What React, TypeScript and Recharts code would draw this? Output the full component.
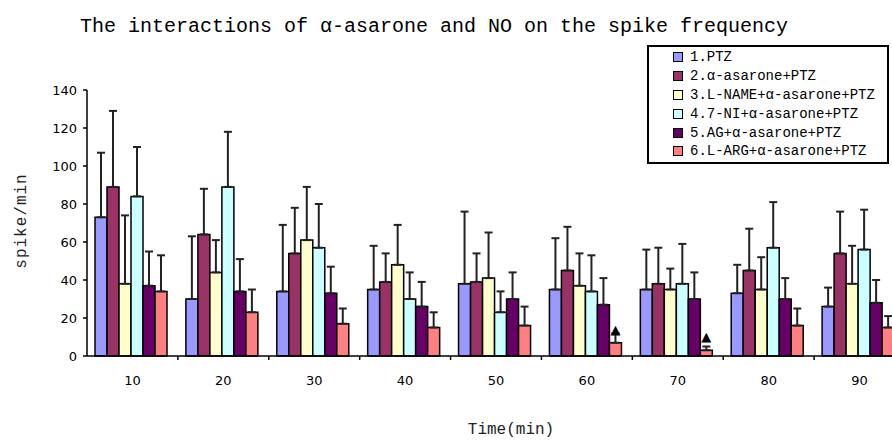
import { Bar, BarChart, ErrorBar, LabelList, Legend, XAxis, YAxis } from 'recharts'

// spike/min, mean and upper error
const categories = ['10', '20', '30', '40', '50', '60', '70', '80', '90']

const ptz = [73, 30, 34, 35, 38, 35, 35, 33, 26]
const ptzErr = [34, 33, 35, 23, 38, 27, 21, 15, 10]

const asarone = [89, 64, 54, 39, 39, 45, 38, 45, 54]
const asaroneErr = [40, 24, 24, 15, 15, 23, 19, 22, 22]

const lname = [38, 44, 61, 48, 41, 37, 35, 35, 38]
const lnameErr = [36, 17, 28, 21, 24, 17, 11, 17, 20]

const sevenNi = [84, 89, 57, 30, 23, 34, 38, 57, 56]
const sevenNiErr = [26, 29, 23, 14, 11, 19, 21, 24, 21]

const ag = [37, 34, 33, 26, 30, 27, 30, 30, 28]
const agErr = [18, 17, 14, 13, 14, 14, 14, 11, 12]

const larg = [34, 23, 17, 15, 16, 7, 3, 16, 15]
const largErr = [19, 12, 8, 8, 10, 5, 2, 9, 6]

// significance marks over the L-ARG group
const marks = ['', '', '', '', '', '▲', '▲', '', '']

const yTicks = [0, 20, 40, 60, 80, 100, 120, 140]

const seriesNames = [
  '1.PTZ',
  '2.α-asarone+PTZ',
  '3.L-NAME+α-asarone+PTZ',
  '4.7-NI+α-asarone+PTZ',
  '5.AG+α-asarone+PTZ',
  '6.L-ARG+α-asarone+PTZ',
]
const seriesColors = ['#9999FF', '#993366', '#FFFFCC', '#CCFFFF', '#660066', '#FF8080']
const seriesValues = [ptz, asarone, lname, sevenNi, ag, larg]
const seriesErrors = [ptzErr, asaroneErr, lnameErr, sevenNiErr, agErr, largErr]

const data = categories.map((time, i) => {
  const row: Record<string, string | number> = { time, mark: marks[i] }
  seriesValues.forEach((vals, s) => {
    row[`s${s}`] = vals[i]
    row[`e${s}`] = seriesErrors[s][i]
  })
  return row
})

const CHART_W = 910
const CHART_H = 440
const Y_AXIS_W = 87
const RIGHT = 5
const HALF_BAND = (CHART_W - Y_AXIS_W - RIGHT) / categories.length / 2

const MONO = '"Liberation Mono", "DejaVu Sans Mono", monospace'
const SANS = '"DejaVu Sans", Verdana, sans-serif'

function TimeTick({ x, y, payload }: any) {
  return (
    <g>
      <line x1={x + HALF_BAND} x2={x + HALF_BAND} y1={y} y2={y + 4} stroke="#000" strokeWidth={1.5} />
      <text x={x} y={y + 29} textAnchor="middle" fontSize={13} fontFamily={SANS} fill="#000">
        {payload.value}
      </text>
    </g>
  )
}

function XTitle({ viewBox }: any) {
  return (
    <text x={viewBox.x + viewBox.width / 2 + 15} y={434} textAnchor="middle" fontSize={16} fontFamily={MONO} fill="#222">
      Time(min)
    </text>
  )
}

function YTitle({ viewBox }: any) {
  const cx = viewBox.x + 26
  const cy = viewBox.y + viewBox.height / 2 - 2
  return (
    <text
      x={cx}
      y={cy}
      transform={`rotate(-90 ${cx} ${cy})`}
      textAnchor="middle"
      fontSize={16}
      letterSpacing={1}
      fontFamily={MONO}
      fill="#222"
    >
      spike/min
    </text>
  )
}

function MarkLabel({ x, y, width, value }: any) {
  if (!value) return null
  return (
    <text x={x + width / 2} y={y - 9} textAnchor="middle" fontSize={13} fontFamily={SANS} fill="#000">
      {value}
    </text>
  )
}

function LegendBox({ payload }: any) {
  return (
    <div
      style={{
        width: 242,
        height: 119,
        border: '2px solid #000',
        boxSizing: 'border-box',
        background: '#fff',
        paddingTop: 1,
      }}
    >
      {(payload || []).map((p: any) => (
        <div key={p.value} style={{ display: 'flex', alignItems: 'center', height: 18.8, paddingLeft: 24 }}>
          <span
            style={{
              display: 'inline-block',
              width: 8,
              height: 8,
              border: '1px solid #000',
              background: p.color,
              marginRight: 7,
            }}
          />
          <span style={{ fontFamily: MONO, fontSize: 14, color: '#000', whiteSpace: 'nowrap' }}>{p.value}</span>
        </div>
      ))}
    </div>
  )
}

export default function App() {
  return (
    <div
      style={{
        position: 'absolute',
        left: 0,
        top: 0,
        width: 892,
        height: 440,
        overflow: 'hidden',
        background: '#fff',
      }}
    >
      <div
        style={{
          position: 'absolute',
          left: 80,
          top: 16,
          fontFamily: MONO,
          fontSize: 20,
          lineHeight: '22px',
          color: '#000',
          whiteSpace: 'nowrap',
          zIndex: 2,
        }}
      >
        The interactions of α-asarone and NO on the spike frequency
      </div>
      <BarChart
        width={CHART_W}
        height={CHART_H}
        data={data}
        margin={{ top: 90, right: RIGHT, left: 0, bottom: 0 }}
        barCategoryGap={8}
        barGap={0}
      >
        <XAxis
          dataKey="time"
          height={84}
          stroke="#000"
          strokeWidth={1.5}
          tickLine={false}
          tickSize={0}
          tickMargin={0}
          tick={<TimeTick />}
          interval={0}
          label={<XTitle />}
        />
        <YAxis
          width={Y_AXIS_W}
          domain={[0, 140]}
          ticks={yTicks}
          stroke="#000"
          strokeWidth={1.5}
          tickSize={4}
          tickMargin={6}
          tick={{ fontSize: 13, fill: '#000', fontFamily: SANS }}
          label={<YTitle />}
        />
        <Legend
          layout="vertical"
          align="center"
          verticalAlign="middle"
          wrapperStyle={{ top: 45, left: 647, width: 242 }}
          content={<LegendBox />}
        />
        {seriesNames.map((name, s) => (
          <Bar
            key={name}
            dataKey={`s${s}`}
            name={name}
            fill={seriesColors[s]}
            stroke="#000"
            strokeWidth={1.5}
            isAnimationActive={false}
          >
            <ErrorBar
              dataKey={(d: any) => [0, d[`e${s}`]]}
              width={4}
              stroke="#222"
              strokeWidth={2}
              direction="y"
            />
            {s === seriesNames.length - 1 && <LabelList dataKey="mark" content={<MarkLabel />} />}
          </Bar>
        ))}
      </BarChart>
    </div>
  )
}
